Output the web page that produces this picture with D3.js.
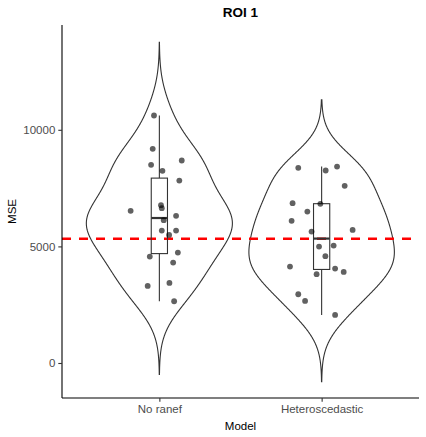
<!DOCTYPE html>
<html>
<head>
<meta charset="utf-8">
<script src="https://cdn.jsdelivr.net/npm/d3@7"></script>
<style>
  body { margin: 0; background: #fff; }
  text { font-family: "Liberation Sans", Arial, sans-serif; }
</style>
</head>
<body>
<script>
// data
var models = ["No ranef", "Heteroscedastic"];

var mseNoRanef = [10614, 9185, 8498, 8683, 8241, 7824, 6524, 6769, 6640, 6309,
                  6125, 5678, 5678, 5494, 4562, 4734, 4305, 3305, 3434, 2648];
var jitNoRanef = [-0.033, -0.041, -0.051, 0.138, 0.019, 0.123, -0.177, 0.010, 0.015, 0.103,
                  0.027, 0.015, 0.103, 0.060, -0.059, 0.114, 0.085, -0.072, 0.062, 0.091];

var mseHetero = [8369, 8254, 8425, 7597, 6854, 6824, 6494, 6095, 5708, 5635,
                 4992, 5035, 4580, 4133, 4047, 3906, 3807, 2949, 2661, 2060];
var jitHetero = [-0.144, 0.025, 0.095, 0.142, -0.179, -0.008, -0.088, -0.185, 0.191, -0.062,
                 -0.016, 0.074, 0.023, -0.195, 0.083, 0.136, -0.031, -0.144, -0.102, 0.083];

var refLine = 5330;
var yTicks = [0, 5000, 10000];

var w = 426, h = 437;
// panel edges ("top" is taken by window.top, so prefixed names)
var pLeft = 62, pRight = 419, pTop = 25, pBottom = 398;

var svg = d3.select("body").append("svg")
    .attr("width", w)
    .attr("height", h);

// 0.6 category units of room on each side, like ggplot's discrete expansion
var x = d3.scalePoint().domain(models).range([pLeft, pRight]).padding(0.6);
var unit = x.step();
var y = d3.scaleLinear().domain([-1501, 14494]).range([pBottom, pTop]);

// helpers for the violin / boxplot stats (R style)
function q7(arr, p) {
  var s = arr.slice().sort(d3.ascending);
  return d3.quantileSorted(s, p);
}
function bwNrd0(arr) {
  var sd = d3.deviation(arr);
  var iqr = q7(arr, 0.75) - q7(arr, 0.25);
  return 0.9 * Math.min(sd, iqr / 1.34) * Math.pow(arr.length, -0.2);
}
function kde(arr) {
  var bw = bwNrd0(arr);
  var lo = d3.min(arr) - 3 * bw, hi = d3.max(arr) + 3 * bw;
  var pts = [];
  for (var i = 0; i < 512; i++) {
    var v = lo + (hi - lo) * i / 511;
    var dens = d3.sum(arr, function(d) {
      var z = (v - d) / bw;
      return Math.exp(-0.5 * z * z);
    }) / (arr.length * bw * Math.sqrt(2 * Math.PI));
    pts.push({v: v, d: dens});
  }
  return pts;
}

var groups = [
  {name: models[0], vals: mseNoRanef, jit: jitNoRanef},
  {name: models[1], vals: mseHetero, jit: jitHetero}
];
groups.forEach(function(g) { g.dens = kde(g.vals); });
var maxDens = d3.max(groups, function(g) { return d3.max(g.dens, function(p) { return p.d; }); });

// violins
groups.forEach(function(g) {
  var cx = x(g.name);
  var half = function(p) { return p.d / maxDens * 0.45 * unit; };
  var rightSide = g.dens.map(function(p) { return [cx + half(p), y(p.v)]; });
  var leftSide = g.dens.slice().reverse().map(function(p) { return [cx - half(p), y(p.v)]; });
  svg.append("path")
    .attr("d", d3.line()(rightSide.concat(leftSide)) + "Z")
    .attr("fill", "white")
    .attr("stroke", "#333333")
    .attr("stroke-width", 1.1);
});

// reference line
svg.append("line")
  .attr("x1", pLeft).attr("x2", pRight)
  .attr("y1", y(refLine)).attr("y2", y(refLine))
  .attr("stroke", "#ff0000")
  .attr("stroke-width", 2.4)
  .attr("stroke-dasharray", "9,8");

// boxplots
groups.forEach(function(g) {
  var cx = x(g.name);
  var q1 = q7(g.vals, 0.25), med = q7(g.vals, 0.5), q3 = q7(g.vals, 0.75);
  var iqr = q3 - q1;
  var hiW = d3.max(g.vals.filter(function(v) { return v <= q3 + 1.5 * iqr; }));
  var loW = d3.min(g.vals.filter(function(v) { return v >= q1 - 1.5 * iqr; }));
  var bw = 0.1 * unit;
  var b = svg.append("g").attr("stroke", "#333333").attr("fill", "none");
  b.append("line").attr("x1", cx).attr("x2", cx).attr("y1", y(hiW)).attr("y2", y(q3)).attr("stroke-width", 1.1);
  b.append("line").attr("x1", cx).attr("x2", cx).attr("y1", y(q1)).attr("y2", y(loW)).attr("stroke-width", 1.1);
  b.append("rect").attr("x", cx - bw / 2).attr("width", bw)
    .attr("y", y(q3)).attr("height", y(q1) - y(q3)).attr("stroke-width", 1.1);
  b.append("line").attr("x1", cx - bw / 2).attr("x2", cx + bw / 2)
    .attr("y1", y(med)).attr("y2", y(med)).attr("stroke-width", 2.2);
});

// jittered points
groups.forEach(function(g) {
  svg.append("g").selectAll("circle")
    .data(g.vals)
    .enter()
    .append("circle")
    .attr("cx", function(d, i) { return x(g.name) + g.jit[i] * unit; })
    .attr("cy", function(d) { return y(d); })
    .attr("r", 2.9)
    .attr("fill", "black")
    .attr("fill-opacity", 0.62);
});

// axes
var yAxis = svg.append("g")
  .attr("transform", "translate(" + pLeft + ",0)")
  .call(d3.axisLeft(y).tickValues(yTicks).tickFormat(d3.format("d")).tickSizeOuter(0).tickSize(3.7).tickPadding(3));
var xAxis = svg.append("g")
  .attr("transform", "translate(0," + pBottom + ")")
  .call(d3.axisBottom(x).tickSizeOuter(0).tickSize(3.7).tickPadding(3));

[yAxis, xAxis].forEach(function(a) {
  a.select(".domain").attr("stroke", "black").attr("stroke-width", 1.1);
  a.selectAll(".tick line").attr("stroke", "#333333").attr("stroke-width", 1.1);
  a.selectAll(".tick text")
    .attr("fill", "#4d4d4d")
    .style("font-size", "11.5px")
    .style("font-family", "'Liberation Sans', Arial, sans-serif");
});
// axis lines span the whole panel like ggplot
yAxis.select(".domain").attr("d", "M0," + pTop + "V" + pBottom);
xAxis.select(".domain").attr("d", "M" + pLeft + ",0H" + pRight);

// titles
svg.append("text")
  .attr("x", (pLeft + pRight) / 2).attr("y", 17)
  .attr("text-anchor", "middle")
  .style("font-size", "13.5px").style("font-weight", "bold")
  .text("ROI 1");

svg.append("text")
  .attr("x", (pLeft + pRight) / 2).attr("y", 430)
  .attr("text-anchor", "middle")
  .style("font-size", "11.5px")
  .text("Model");

svg.append("text")
  .attr("transform", "translate(16," + ((pTop + pBottom) / 2) + ") rotate(-90)")
  .attr("text-anchor", "middle")
  .style("font-size", "11.5px")
  .text("MSE");
</script>
</body>
</html>
